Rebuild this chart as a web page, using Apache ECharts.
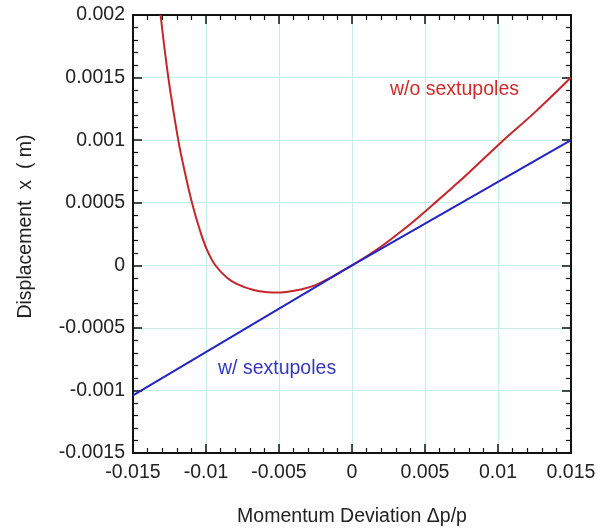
<!DOCTYPE html>
<html>
<head>
<meta charset="utf-8">
<script src="https://cdn.jsdelivr.net/npm/echarts@6/dist/echarts.min.js"></script>
<style>
  html, body { margin: 0; padding: 0; background: #ffffff; }
  #chart { width: 600px; height: 532px; }
</style>
</head>
<body>
<div id="chart"></div>
<script>
// Tick positions and their printed labels
const xTicks = [-0.015, -0.01, -0.005, 0, 0.005, 0.01, 0.015];
const xTickLabels = ['-0.015', '-0.01', '-0.005', '0', '0.005', '0.01', '0.015'];
const yTicks = [-0.0015, -0.001, -0.0005, 0, 0.0005, 0.001, 0.0015, 0.002];
const yTickLabels = ['-0.0015', '-0.001', '-0.0005', '0', '0.0005', '0.001', '0.0015', '0.002'];

// Horizontal displacement vs. momentum deviation, without sextupole correction
const momentumNoSext = [-0.01311, -0.01258, -0.0119, -0.01153, -0.01096, -0.01039, -0.00993,
  -0.00936, -0.00856, -0.0079, -0.00674, -0.0057, -0.0052, -0.0045, -0.0035, -0.0025,
  -0.0015, -0.0008, 0, 0.001, 0.002, 0.003, 0.004, 0.0055, 0.008, 0.01028, 0.0125, 0.015];
const dispNoSext = [0.002, 0.0015, 0.001, 0.000788, 0.0005, 0.00027, 0.000123,
  0.0, -0.0001, -0.000148, -0.000198, -0.000216, -0.000218, -0.000213, -0.000193, -0.000158,
  -0.000101, -0.000054, 0, 0.000072, 0.00015, 0.000238, 0.00033, 0.00048, 0.00074, 0.00099, 0.00122, 0.0015];

// With sextupoles the dispersion is nearly linear
const momentumSext = [-0.015, 0, 0.015];
const dispSext = [-0.00104, 0, 0.001];

const FONT = '"Liberation Sans", Arial, Helvetica, sans-serif';
const FS = 19.5;

function labelFor(ticks, labels) {
  return function (v) {
    let best = 0;
    for (let i = 1; i < ticks.length; i++) {
      if (Math.abs(ticks[i] - v) < Math.abs(ticks[best] - v)) best = i;
    }
    return labels[best];
  };
}

const pair = (xs, ys) => xs.map((x, i) => [x, ys[i]]);

// Boxed frame with inward major and minor ticks on all four sides
function frameLine() { return { show: true, onZero: false, lineStyle: { color: '#111', width: 2 } }; }
function tickIn() { return { show: true, inside: true, length: 9, lineStyle: { color: '#111', width: 1.5 } }; }
function minorIn() { return { show: true, splitNumber: 5, length: 5, lineStyle: { color: '#111', width: 1.2 } }; }
const gridLine = { show: true, lineStyle: { color: '#c6eee6', width: 1.2 } };

const xBase = { type: 'value', min: -0.015, max: 0.015, interval: 0.005 };
const yBase = { type: 'value', min: -0.0015, max: 0.002, interval: 0.0005 };

const chart = echarts.init(document.getElementById('chart'), null, { renderer: 'canvas' });

chart.setOption({
  animation: false,
  backgroundColor: '#ffffff',
  grid: { left: 133, top: 15, width: 438, height: 438, outerBoundsMode: 'none' },
  xAxis: [
    Object.assign({}, xBase, {
      position: 'bottom',
      name: 'Momentum Deviation \u0394p/p',
      nameLocation: 'middle',
      nameGap: 54,
      nameTextStyle: { fontFamily: FONT, fontSize: FS, color: '#222' },
      axisLine: frameLine(), axisTick: tickIn(), minorTick: minorIn(), splitLine: gridLine,
      axisLabel: { margin: 10, fontFamily: FONT, fontSize: FS, color: '#222', formatter: labelFor(xTicks, xTickLabels) }
    }),
    Object.assign({}, xBase, {
      position: 'top',
      axisLine: frameLine(), axisTick: tickIn(), minorTick: minorIn(),
      splitLine: { show: false }, axisLabel: { show: false }
    })
  ],
  yAxis: [
    Object.assign({}, yBase, {
      position: 'left',
      name: 'Displacement  x  ( m)',
      nameLocation: 'middle',
      nameGap: 97,
      nameRotate: 90,
      nameTextStyle: { fontFamily: FONT, fontSize: FS, color: '#222', padding: [0, 0, 0, 15] },
      axisLine: frameLine(), axisTick: tickIn(), minorTick: minorIn(), splitLine: gridLine,
      axisLabel: { margin: 8, fontFamily: FONT, fontSize: FS, color: '#222', formatter: labelFor(yTicks, yTickLabels) }
    }),
    Object.assign({}, yBase, {
      position: 'right',
      axisLine: frameLine(), axisTick: tickIn(), minorTick: minorIn(),
      splitLine: { show: false }, axisLabel: { show: false }
    })
  ],
  series: [
    {
      name: 'w/o sextupoles', type: 'line', xAxisIndex: 0, yAxisIndex: 0,
      data: pair(momentumNoSext, dispNoSext),
      symbol: 'none', smooth: 0.4, clip: true,
      lineStyle: { color: '#c4262b', width: 2 }
    },
    {
      name: 'w/ sextupoles', type: 'line', xAxisIndex: 0, yAxisIndex: 0,
      data: pair(momentumSext, dispSext),
      symbol: 'none', clip: true,
      lineStyle: { color: '#2424c4', width: 2 }
    }
  ],
  graphic: [
    { type: 'text', left: 390, top: 80, style: { text: 'w/o sextupoles', fill: '#d02a2a', font: FS + 'px ' + FONT } },
    { type: 'text', left: 218, top: 359, style: { text: 'w/ sextupoles', fill: '#3535c0', font: FS + 'px ' + FONT } }
  ]
});
</script>
</body>
</html>
